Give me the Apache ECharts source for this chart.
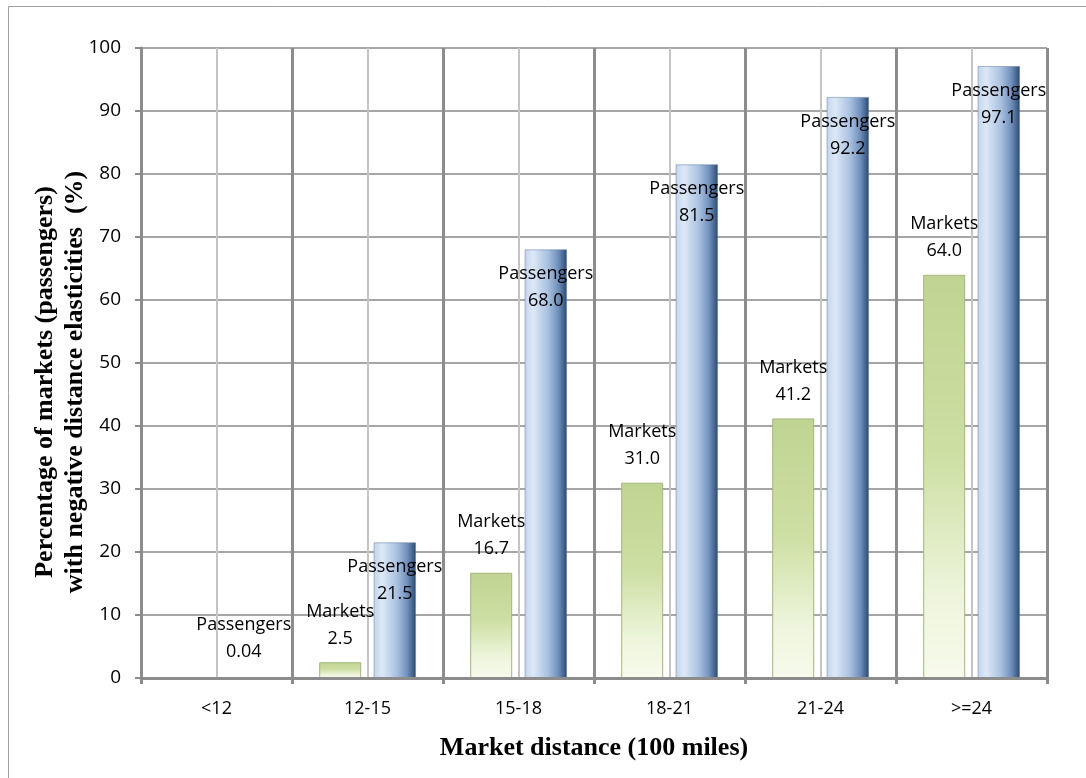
<!DOCTYPE html>
<html>
<head>
<meta charset="utf-8">
<script src="https://cdn.jsdelivr.net/npm/echarts@6/dist/echarts.min.js"></script>
<style>html,body{margin:0;padding:0;background:#fff}#c{width:1086px;height:778px}</style>
</head>
<body>
<div id="c"></div>
<script>
var categories = ['<12', '12-15', '15-18', '18-21', '21-24', '>=24'];
var marketsValues = [null, 2.5, 16.7, 31.0, 41.2, 64.0];
var passengersValues = [0.04, 21.5, 68.0, 81.5, 92.2, 97.1];
var yTicks = [0, 10, 20, 30, 40, 50, 60, 70, 80, 90, 100];
var yTitleLines = ['Percentage of markets (passengers)', 'with negative distance elasticities  (%)'];
var xTitle = 'Market distance (100 miles)';
var halfCategories = [];
categories.forEach(function (c) { halfCategories.push(c + 'a', c + 'b'); });

var labelFont = 'Open Sans';
function fmt(v) { return v < 1 ? String(v) : v.toFixed(1); }
var titleStyle = { fontFamily: 'Liberation Serif', fontWeight: 'bold', fontSize: 26, fill: '#000',
  align: 'center', verticalAlign: 'middle' };

var chart = echarts.init(document.getElementById('c'), null, { renderer: 'canvas' });
chart.setOption({
  animation: false,
  backgroundColor: '#fff',
  graphic: [{
    type: 'rect', shape: { x: 8.5, y: 6.5, width: 1200, height: 1000 },
    style: { fill: 'none', stroke: '#a0a0a0', lineWidth: 1 }, silent: true, z: -10
  }, {
    type: 'text', x: 45, y: 382, rotation: Math.PI / 2,
    style: Object.assign({ text: yTitleLines[0] }, titleStyle)
  }, {
    type: 'text', x: 75, y: 382, rotation: Math.PI / 2,
    style: Object.assign({ text: yTitleLines[1] }, titleStyle)
  }],
  grid: { left: 141, right: 39, top: 48, bottom: 100 },
  xAxis: [{
    type: 'category',
    data: categories,
    axisLine: { lineStyle: { color: '#8c8c8c', width: 3 } },
    axisTick: { show: true, length: 6, lineStyle: { color: '#8c8c8c', width: 3 } },
    axisLabel: { color: '#000', fontFamily: labelFont, fontSize: 18, margin: 22 },
    splitLine: { show: true, lineStyle: { color: '#8c8c8c', width: 3 } },
    name: xTitle,
    nameLocation: 'middle',
    nameGap: 57,
    nameTextStyle: { fontFamily: 'Liberation Serif', fontWeight: 'bold', fontSize: 26, color: '#000' },
    z: 5
  }, {
    type: 'category',
    data: halfCategories,
    position: 'bottom',
    axisLine: { show: false },
    axisTick: { show: false },
    axisLabel: { show: false },
    splitLine: { show: true, lineStyle: { color: '#c4c4c4', width: 2 } }
  }],
  yAxis: {
    type: 'value',
    min: 0, max: 100, interval: 10,
    axisLine: { show: true, lineStyle: { color: '#8c8c8c', width: 3 } },
    axisTick: { show: true, length: 6, lineStyle: { color: '#8c8c8c', width: 2 } },
    axisLabel: {
      color: '#000', fontFamily: labelFont, fontSize: 19, margin: 20,
      formatter: function (v) { return yTicks.indexOf(v) >= 0 ? String(v) : ''; }
    },
    splitLine: { show: true, lineStyle: { color: '#a6a6a6', width: 2 } }
  },
  series: [{
    name: 'Markets',
    type: 'bar',
    xAxisIndex: 0,
    data: marketsValues,
    barWidth: 42,
    barGap: '30%',
    itemStyle: {
      color: new echarts.graphic.LinearGradient(0, 0, 0, 1, [
        { offset: 0, color: '#bfd492' },
        { offset: 0.45, color: '#cddfa3' },
        { offset: 0.8, color: '#eef5dc' },
        { offset: 1, color: '#f7faec' }
      ]),
      borderColor: '#a3b67a',
      borderWidth: 1
    },
    label: {
      show: true, position: 'top', distance: 10,
      fontFamily: labelFont, fontSize: 18, color: '#000', lineHeight: 27,
      formatter: function (p) { return 'Markets\n' + fmt(p.value); }
    },
    z: 3
  }, {
    name: 'Passengers',
    type: 'bar',
    xAxisIndex: 0,
    data: passengersValues.map(function (v) {
      return v < 5 ? { value: v, label: { position: 'top', distance: 12 } } : v;
    }),
    barWidth: 42,
    barGap: '30%',
    itemStyle: {
      color: new echarts.graphic.LinearGradient(0, 0, 1, 0, [
        { offset: 0, color: '#c4d6ec' },
        { offset: 0.2, color: '#dce8f6' },
        { offset: 0.55, color: '#a9c1e0' },
        { offset: 0.8, color: '#6f8fbb' },
        { offset: 1, color: '#2c4a72' }
      ]),
      borderColor: '#5a77a0',
      borderWidth: 0.5
    },
    label: {
      show: true, position: 'insideTop', distance: 11,
      fontFamily: labelFont, fontSize: 18, color: '#000', lineHeight: 27,
      formatter: function (p) { return 'Passengers\n' + fmt(p.value); }
    },
    z: 3
  }]
});
</script>
</body>
</html>
